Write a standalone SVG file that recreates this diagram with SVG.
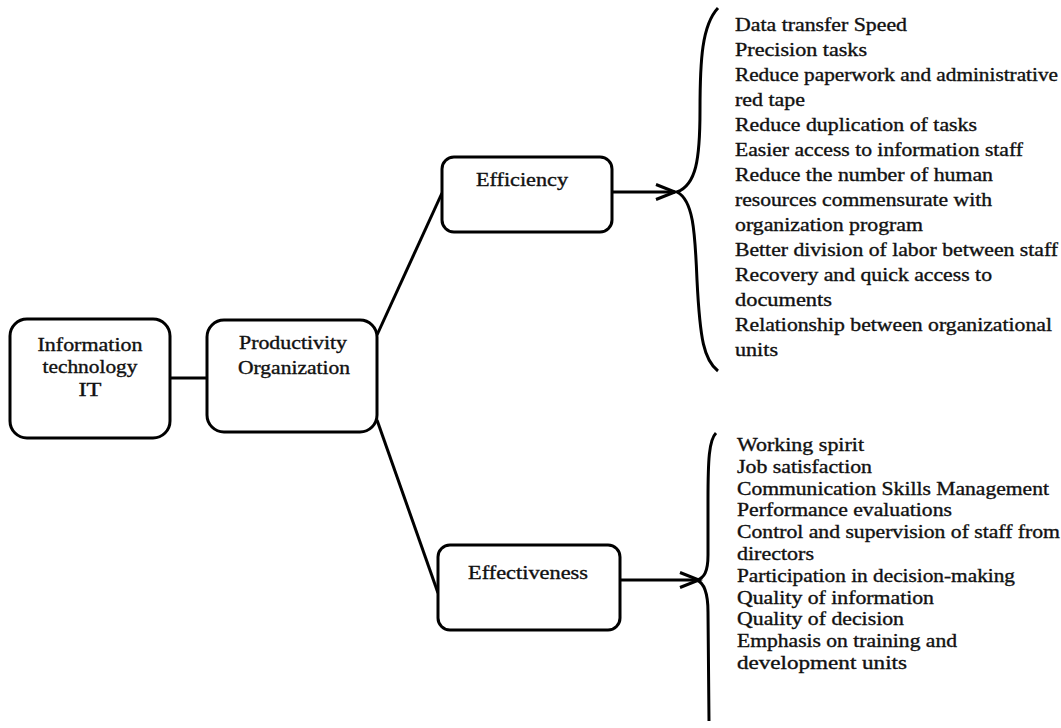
<svg xmlns="http://www.w3.org/2000/svg" width="1061" height="728" viewBox="0 0 1061 728">
<defs>
<style>
.box{fill:#fff;stroke:#000;stroke-width:3}
.ln{fill:none;stroke:#000;stroke-width:3}
.t{font-family:"Liberation Serif","Times New Roman",serif;font-size:18px;fill:#111;stroke:#111;stroke-width:0.35}
.c{text-anchor:middle}
</style>
<marker id="arr" markerUnits="userSpaceOnUse" markerWidth="24" markerHeight="20" viewBox="-20 -10 24 20" refX="0" refY="0" orient="auto">
<path d="M-19,-7.5 L0,0 L-19,7.5" fill="none" stroke="#000" stroke-width="3"/>
</marker>
</defs>
<rect width="1061" height="728" fill="#fff"/>
<g id="connectors">
<line class="ln" x1="170" y1="378" x2="207" y2="378"/>
<line class="ln" x1="377" y1="335" x2="442" y2="193"/>
<line class="ln" x1="377" y1="420" x2="438" y2="593"/>
<line class="ln" x1="612" y1="192" x2="675" y2="192" marker-end="url(#arr)"/>
<line class="ln" x1="620" y1="580" x2="699" y2="580" marker-end="url(#arr)"/>
<path class="ln" d="M718,8 C702,25 700,60 700,110 C700,160 696,185 677,192 C693,200 695,230 697,280 C700,340 704,360 718,371"/>
<path class="ln" d="M716,433 C709,440 708,460 708,500 L708,555 C708,572 704,578 697,580 C704,583 708,592 708,612 L709,721"/>
</g>
<g id="node-it">
<rect class="box" x="10" y="319" width="160" height="119" rx="17"/>
<text class="t c" x="90" y="351" textLength="105" lengthAdjust="spacingAndGlyphs">Information</text>
<text class="t c" x="90" y="373" textLength="95" lengthAdjust="spacingAndGlyphs">technology</text>
<text class="t c" x="90" y="396" textLength="23" lengthAdjust="spacingAndGlyphs">IT</text>
</g>
<g id="node-productivity">
<rect class="box" x="207" y="320" width="170" height="112" rx="17"/>
<text class="t c" x="293" y="349" textLength="108" lengthAdjust="spacingAndGlyphs">Productivity</text>
<text class="t c" x="294" y="374" textLength="112" lengthAdjust="spacingAndGlyphs">Organization</text>
</g>
<g id="node-efficiency">
<rect class="box" x="442" y="157" width="170" height="75" rx="12"/>
<text class="t c" x="522" y="186" textLength="92" lengthAdjust="spacingAndGlyphs">Efficiency</text>
</g>
<g id="node-effectiveness">
<rect class="box" x="438" y="545" width="182" height="85" rx="12"/>
<text class="t c" x="528" y="579" textLength="120" lengthAdjust="spacingAndGlyphs">Effectiveness</text>
</g>
<g id="efficiency-list" class="t">
<text x="735" y="31" textLength="172" lengthAdjust="spacingAndGlyphs">Data transfer Speed</text>
<text x="735" y="56" textLength="132" lengthAdjust="spacingAndGlyphs">Precision tasks</text>
<text x="735" y="81" textLength="323" lengthAdjust="spacingAndGlyphs">Reduce paperwork and administrative</text>
<text x="735" y="106" textLength="70" lengthAdjust="spacingAndGlyphs">red tape</text>
<text x="735" y="131" textLength="242" lengthAdjust="spacingAndGlyphs">Reduce duplication of tasks</text>
<text x="735" y="156" textLength="288" lengthAdjust="spacingAndGlyphs">Easier access to information staff</text>
<text x="735" y="181" textLength="258" lengthAdjust="spacingAndGlyphs">Reduce the number of human</text>
<text x="735" y="206" textLength="257" lengthAdjust="spacingAndGlyphs">resources commensurate with</text>
<text x="735" y="231" textLength="188" lengthAdjust="spacingAndGlyphs">organization program</text>
<text x="735" y="256" textLength="323" lengthAdjust="spacingAndGlyphs">Better division of labor between staff</text>
<text x="735" y="281" textLength="257" lengthAdjust="spacingAndGlyphs">Recovery and quick access to</text>
<text x="735" y="306" textLength="97" lengthAdjust="spacingAndGlyphs">documents</text>
<text x="735" y="331" textLength="317" lengthAdjust="spacingAndGlyphs">Relationship between organizational</text>
<text x="735" y="356" textLength="43" lengthAdjust="spacingAndGlyphs">units</text>
</g>
<g id="effectiveness-list" class="t">
<text x="737" y="451" textLength="127" lengthAdjust="spacingAndGlyphs">Working spirit</text>
<text x="737" y="473" textLength="135" lengthAdjust="spacingAndGlyphs">Job satisfaction</text>
<text x="737" y="495" textLength="312" lengthAdjust="spacingAndGlyphs">Communication Skills Management</text>
<text x="737" y="516" textLength="215" lengthAdjust="spacingAndGlyphs">Performance evaluations</text>
<text x="737" y="538" textLength="323" lengthAdjust="spacingAndGlyphs">Control and supervision of staff from</text>
<text x="737" y="560" textLength="77" lengthAdjust="spacingAndGlyphs">directors</text>
<text x="737" y="582" textLength="278" lengthAdjust="spacingAndGlyphs">Participation in decision-making</text>
<text x="737" y="604" textLength="197" lengthAdjust="spacingAndGlyphs">Quality of information</text>
<text x="737" y="625" textLength="167" lengthAdjust="spacingAndGlyphs">Quality of decision</text>
<text x="737" y="647" textLength="220" lengthAdjust="spacingAndGlyphs">Emphasis on training and</text>
<text x="737" y="669" textLength="170" lengthAdjust="spacingAndGlyphs">development units</text>
</g>
</svg>
